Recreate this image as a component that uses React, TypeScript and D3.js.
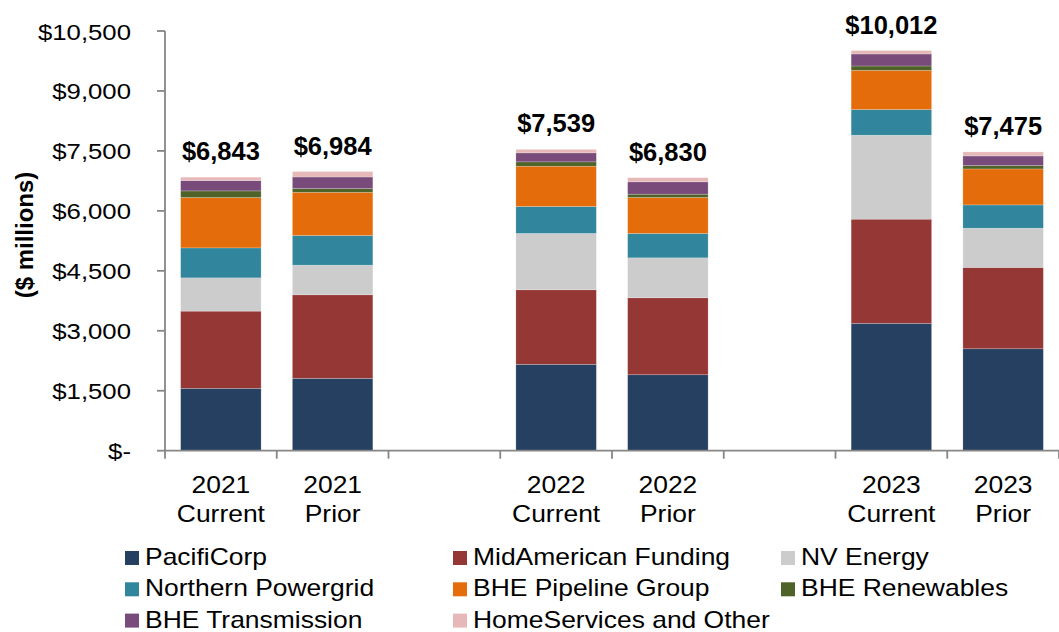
import React from 'react';
import * as d3 from 'd3';

const categories = ['2021 Current', '2021 Prior', '2022 Current', '2022 Prior', '2023 Current', '2023 Prior'];
// empty slots keep the gap between year groups
const slots = ['2021 Current', '2021 Prior', 'gap1', '2022 Current', '2022 Prior', 'gap2', '2023 Current', '2023 Prior'];

const seriesNames = [
  'PacifiCorp',
  'MidAmerican Funding',
  'NV Energy',
  'Northern Powergrid',
  'BHE Pipeline Group',
  'BHE Renewables',
  'BHE Transmission',
  'HomeServices and Other',
];
const seriesColors = ['#264061', '#953735', '#cccccc', '#31859c', '#e46c0a', '#4f6228', '#784b7b', '#e6b9b8'];

const pacifiCorp = [1560, 1810, 2160, 1900, 3185, 2550];
const midAmerican = [1932, 2090, 1865, 1925, 2608, 2035];
const nvEnergy = [832, 742, 1410, 1000, 2100, 982];
const northernPowergrid = [750, 742, 675, 610, 642, 582];
const pipelineGroup = [1260, 1082, 1008, 900, 982, 900];
const renewables = [165, 92, 108, 83, 108, 85];
const transmission = [260, 290, 225, 308, 300, 240];
const homeServices = [84, 136, 88, 104, 87, 101];

const totals = ['$6,843', '$6,984', '$7,539', '$6,830', '$10,012', '$7,475'];
const yTicks = [0, 1500, 3000, 4500, 6000, 7500, 9000, 10500];

const allSeries = [pacifiCorp, midAmerican, nvEnergy, northernPowergrid, pipelineGroup, renewables, transmission, homeServices];

const W = 1059;
const H = 632;
const FONT = '"Liberation Sans", Arial, sans-serif';
const AXIS = '#868686';

// text that is a little wider than the font, like the original export
const Wide: React.FC<{ x: number; y: number; sx: number; size: number; anchor?: string; children: React.ReactNode }> = ({
  x,
  y,
  sx,
  size,
  anchor = 'start',
  children,
}) => (
  <text transform={`translate(${x},${y}) scale(${sx},1)`} textAnchor={anchor} fontSize={size} fill="#000">
    {children}
  </text>
);

const App: React.FC = () => {
  const x = d3.scaleBand<string>().domain(slots).range([165, 1059]).paddingInner(0.28).paddingOuter(0.14);
  const y = d3.scaleLinear().domain([0, 10500]).range([450.7, 31]);

  const rows = categories.map((c, i) => {
    const r: Record<string, number | string> = { cat: c };
    seriesNames.forEach((s, k) => (r[s] = allSeries[k][i]));
    return r;
  });
  const stacked = d3.stack<Record<string, number | string>>().keys(seriesNames)(rows as any);

  const step = x.step();
  const boundaries = d3.range(slots.length + 1).map((i) => 165 + i * step);
  const fmt = (v: number) => (v === 0 ? '$-' : '$' + d3.format(',')(v));

  return (
    <svg width={W} height={H} style={{ position: 'absolute', left: 0, top: 0, background: '#fff' }} fontFamily={FONT}>
      {/* bars */}
      {stacked.map((layer, k) => (
        <g key={seriesNames[k]} fill={seriesColors[k]}>
          {layer.map((d, i) => (
            <rect
              key={i}
              x={x(categories[i])}
              width={x.bandwidth()}
              y={y(d[1])}
              height={y(d[0]) - y(d[1])}
              stroke="#ffffff"
              strokeOpacity={0.35}
              strokeWidth={0.6}
            />
          ))}
        </g>
      ))}

      {/* total labels */}
      {categories.map((c, i) => {
        const top = stacked[stacked.length - 1][i][1];
        return (
          <text
            key={c}
            x={(x(c) as number) + x.bandwidth() / 2}
            y={y(top) - 17}
            textAnchor="middle"
            fontSize={25.5}
            fontWeight="bold"
            fill="#000"
          >
            {totals[i]}
          </text>
        );
      })}

      {/* y axis */}
      <line x1={165} x2={165} y1={y(10500)} y2={y(0)} stroke={AXIS} strokeWidth={1.8} />
      {yTicks.map((t) => (
        <g key={t}>
          <line x1={157} x2={165} y1={y(t)} y2={y(t)} stroke={AXIS} strokeWidth={1.8} />
          <Wide x={131} y={y(t) + 8.5} sx={1.12} size={23} anchor="end">
            {fmt(t)}
          </Wide>
        </g>
      ))}
      <text
        transform={`translate(33, 235) rotate(-90)`}
        textAnchor="middle"
        fontSize={24}
        fontWeight="bold"
        fill="#000"
      >
        ($ millions)
      </text>

      {/* x axis */}
      <line x1={165} x2={W} y1={y(0)} y2={y(0)} stroke={AXIS} strokeWidth={1.8} />
      {boundaries.map((b, i) => (
        <line key={i} x1={b} x2={b} y1={y(0)} y2={y(0) + 8} stroke={AXIS} strokeWidth={1.8} />
      ))}
      {categories.map((c) => {
        const [yr, kind] = c.split(' ');
        const cx = (x(c) as number) + x.bandwidth() / 2;
        return (
          <g key={c}>
            <Wide x={cx} y={493} sx={1.15} size={23} anchor="middle">
              {yr}
            </Wide>
            <Wide x={cx} y={522} sx={1.15} size={23} anchor="middle">
              {kind}
            </Wide>
          </g>
        );
      })}

      {/* legend */}
      {seriesNames.map((s, k) => {
        const col = k % 3;
        const row = Math.floor(k / 3);
        const lx = 125 + col * 328;
        const ly = 565 + row * 31.3;
        return (
          <g key={s}>
            <rect x={lx} y={ly - 14} width={14} height={14} fill={seriesColors[k]} />
            <Wide x={lx + 20} y={ly} sx={1.15} size={23}>
              {s}
            </Wide>
          </g>
        );
      })}
    </svg>
  );
};

export default App;
